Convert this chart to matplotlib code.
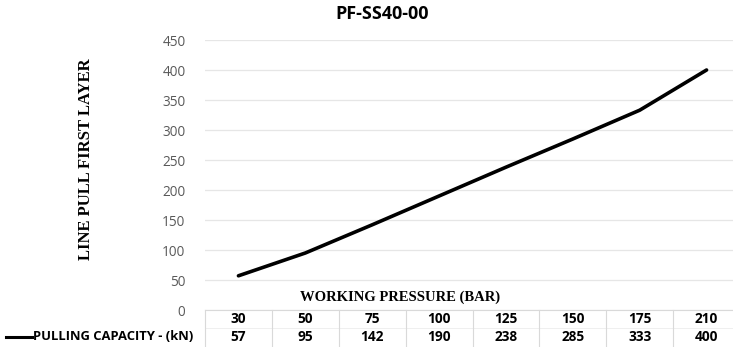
import matplotlib.pyplot as plt
import matplotlib.transforms as mtransforms
from matplotlib.lines import Line2D
import numpy as np

pressure = ['30', '50', '75', '100', '125', '150', '175', '210']
capacity = [57, 95, 142, 190, 238, 285, 333, 400]
yticks = [0, 50, 100, 150, 200, 250, 300, 350, 400, 450]

W, H = 733, 347
fig = plt.figure(figsize=(W / 100, H / 100), dpi=100)
sans = 'Open Sans'

# plot area in pixels: x 205..740, y 40..310 (from top)
ax = fig.add_axes([205 / W, (H - 310) / H, 535 / W, 270 / H])
x = np.arange(len(pressure))
ax.plot(x, capacity, color='black', lw=2.6, solid_capstyle='round', solid_joinstyle='round')
ax.set_xlim(-0.5, len(pressure) - 0.5)
ax.set_ylim(0, 450)
ax.set_yticks(yticks)
ax.set_xticks([])
ax.grid(axis='y', color='#e6e6e6', lw=0.9)
ax.set_axisbelow(True)
for s in ax.spines.values():
    s.set_visible(False)
ax.tick_params(axis='y', length=0, pad=14, labelsize=9.8, labelcolor='#595959')
for lab in ax.get_yticklabels():
    lab.set_fontfamily(sans)

fig.text(382 / W, 1 - 14 / H, 'PF-SS40-00', ha='center', va='center',
         fontsize=13, fontweight='bold', family=sans)
fig.text(86 / W, 1 - 159 / H, 'LINE PULL FIRST LAYER', rotation=90, ha='center', va='center',
         fontsize=12, fontweight='bold', family='Liberation Serif')
fig.text(400 / W, 1 - 297 / H, 'WORKING PRESSURE (BAR)', ha='center', va='center',
         fontsize=10.5, fontweight='bold', family='Liberation Serif')

# data table under the axis
trans = mtransforms.blended_transform_factory(ax.transData, fig.transFigure)
row1 = 1 - 319 / H
row2 = 1 - 337 / H
for i in range(len(pressure)):
    ax.text(i, row1, pressure[i], transform=trans, ha='center', va='center',
            fontsize=9.8, fontweight='bold', family=sans, clip_on=False)
    ax.text(i, row2, str(capacity[i]), transform=trans, ha='center', va='center',
            fontsize=9.8, fontweight='bold', family=sans, clip_on=False)

grid_c = '#d9d9d9'
fig.add_artist(Line2D([205 / W, 1], [1 - 310 / H] * 2, color=grid_c, lw=0.8))
fig.add_artist(Line2D([205 / W, 1], [1 - 328 / H] * 2, color='#ececec', lw=0.6))
for i in range(len(pressure)):
    xb = ax.transData.transform((i - 0.5, 0))[0] / W
    fig.add_artist(Line2D([xb, xb], [0, 1 - 310 / H], color=grid_c, lw=0.8))

fig.add_artist(Line2D([6 / W, 32 / W], [row2, row2], color='black', lw=2.2))
fig.text(33 / W, row2, 'PULLING CAPACITY - (kN)', ha='left', va='center',
         fontsize=9.4, fontweight='bold', family=sans)

fig.savefig('out.png', dpi=100)
